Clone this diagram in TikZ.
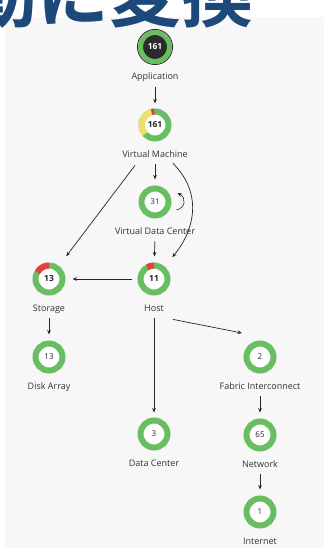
\documentclass[tikz,border=0pt]{standalone}
\usepackage{fontspec}
\setmainfont{Open Sans}
\newfontfamily\jpfont{Noto Sans CJK JP}[BoldFont={Noto Sans CJK JP Bold}]
\usetikzlibrary{positioning,calc,arrows.meta}
\definecolor{ringGreen}{RGB}{106,190,98}
\definecolor{ringRed}{RGB}{226,66,66}
\definecolor{ringYellow}{RGB}{238,224,104}
\definecolor{panelGray}{RGB}{247,247,247}
\definecolor{titleBlue}{RGB}{28,72,122}
\definecolor{appDark}{RGB}{43,43,43}

\begin{document}
\begin{tikzpicture}[x=1pt, y=1pt,
		ring/.style={circle, draw=ringGreen, line width=6pt, fill=white, minimum size=27pt, inner sep=0pt,
			font=\fontsize{8}{9}\selectfont, text=black!85},
		hot/.style={font=\bfseries\fontsize{8.4}{9}\selectfont},
		lbl/.style={font=\fontsize{9}{10}\selectfont, text=black!80, inner sep=1pt, text height=6.5pt, text depth=2pt},
		arr/.style={-{Stealth[length=4.5pt, width=3.6pt]}, line width=0.7pt, black!85},
		seg/.style={line width=6pt},
		node distance=8pt
		]
		\useasboundingbox (0,0) rectangle (324,548);
		\clip (0,0) rectangle (324,548);
		\fill[panelGray] (5,0) rectangle (324,531);
		
		% ===== title (cut off at the top) =====
		\node[anchor=base west, inner sep=0pt, text=titleBlue, font=\jpfont\bfseries\fontsize{72}{72}\selectfont] (title) at (-35,526) {動に変換};
		
		% ===== rings =====
		\node[ring, line width=5pt, minimum size=29pt, fill=appDark, text=white, hot] (app) at (155,501) {161};
		\draw[appDark, line width=0.8pt] (app.center) circle (17.6pt);
		\node[ring, hot] (vm) at (155,423) {161};
		\node[ring] (vdc) at (155,346) {31};
		\node[ring, hot] (host) at (154,269) {11};
		\node[ring, hot] (stor) at (49,269) {13};
		\node[ring] (disk) at (49,191) {13};
		\node[ring] (dc) at (154,114) {3};
		\node[ring] (fi) at (260,191) {2};
		\node[ring] (net) at (260,113) {65};
		\node[ring] (inet) at (260,36) {1};
		
		% ===== red / yellow parts =====
		\draw[seg, ringYellow] ([shift={(105:13.5pt)}]vm.center) arc (105:222:13.5pt);
		\draw[seg, ringRed] ([shift={(93:13.5pt)}]vm.center) arc (93:105:13.5pt);
		\draw[seg, ringRed] ([shift={(90:13.5pt)}]host.center) arc (90:120:13.5pt);
		\draw[seg, ringRed] ([shift={(90:13.5pt)}]stor.center) arc (90:150:13.5pt);
		
		% ===== labels =====
		\node[lbl, below=of app] (app-l) {Application};
		\node[lbl, below=of vm] (vm-l) {Virtual Machine};
		\node[lbl, below=of vdc] (vdc-l) {Virtual Data Center};
		\node[lbl, below=of host] (host-l) {Host};
		\node[lbl, below=of stor] (stor-l) {Storage};
		\node[lbl, below=of disk] (disk-l) {Disk Array};
		\node[lbl, below=of dc] (dc-l) {Data Center};
		\node[lbl, below=of fi] (fi-l) {Fabric Interconnect};
		\node[lbl, below=of net] (net-l) {Network};
		\node[lbl, below=of inet] (inet-l) {Internet};
		
		% ===== arrows =====
		\draw[arr, shorten <=4pt, shorten >=5pt] (app-l) -- (vm);
		\draw[arr, shorten <=4pt, shorten >=6pt] (vm-l) -- (vdc);
		\draw[arr, shorten <=4pt, shorten >=6pt] (vdc-l) -- (host);
		\draw[arr, shorten <=4pt, shorten >=6pt] (stor-l) -- (disk);
		\draw[arr, shorten <=4pt, shorten >=5pt] (host-l) -- (dc);
		\draw[arr, shorten <=4pt, shorten >=6pt] (fi-l) -- (net);
		\draw[arr, shorten <=4pt, shorten >=6pt] (net-l) -- (inet);
		\draw[arr, shorten <=6pt, shorten >=7pt] (host) -- (stor);
		\draw[arr, shorten >=12pt] ($(vm-l.south)+(-20,-5)$) -- (stor);
		\draw[arr, shorten >=12pt] ($(vm-l.south)+(18,-3)$) to[out=-45, in=50, looseness=1.1] (host);
		\draw[arr] ($(host-l.south east)+(8,-5)$) -- ($(fi.center)+(-18,24)$);
		\draw[arr, line width=0.6pt] ($(vdc.east)+(5,-8)$) .. controls +(9,2) and +(9,-5) .. ($(vdc.east)+(6,9)$);
		
	\end{tikzpicture}
\end{document}
